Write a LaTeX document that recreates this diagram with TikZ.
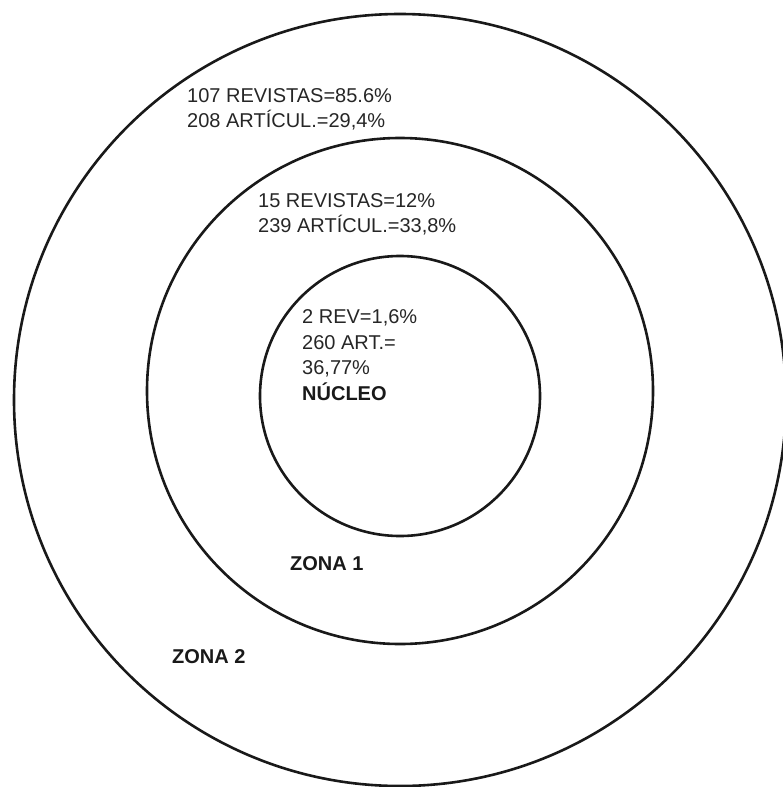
\documentclass[tikz,border=0pt]{standalone}
\usepackage{fontspec}
\setmainfont{Liberation Sans}
\begin{document}
\begin{tikzpicture}[x=1pt,y=-1pt,
  ring/.style={draw=black!90,line width=2.6pt},
  lbl/.style={anchor=base west,inner sep=0pt,font=\fontsize{20}{25}\selectfont,text=black!85,align=left},
  zlbl/.style={anchor=base west,inner sep=0pt,font=\fontsize{20}{25}\selectfont\bfseries,text=black!90}]
\useasboundingbox (0,0) rectangle (783,787);
\draw[ring] (400,400) circle[radius=386];
\draw[ring] (400,391) circle[radius=253];
\draw[ring] (400,396) circle[radius=140];
\node[lbl] (t1a) at (187,102) {107 REVISTAS=85.6\%};
\node[lbl] (t1b) at (187,127) {208 ARTÍCUL.=29,4\%};
\node[lbl] (t2a) at (258,207) {15 REVISTAS=12\%};
\node[lbl] (t2b) at (258,232) {239 ARTÍCUL.=33,8\%};
\node[lbl] (t3a) at (302,323) {2 REV=1,6\%};
\node[lbl] (t3b) at (302,349) {260 ART.=};
\node[lbl] (t3c) at (302,374) {36,77\%};
\node[zlbl] (nuc) at (302,400) {NÚCLEO};
\node[zlbl] (z1) at (290,570) {ZONA 1};
\node[zlbl] (z2) at (172,663) {ZONA 2};
\end{tikzpicture}
\end{document}
